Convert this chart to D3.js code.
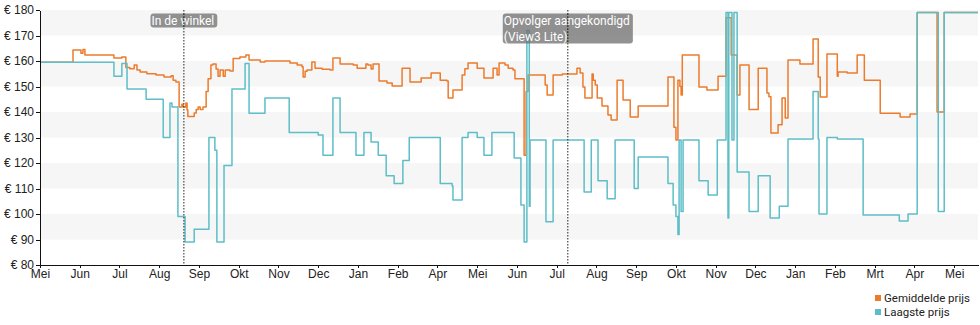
<!DOCTYPE html>
<html>
<head>
<meta charset="utf-8">
<script src="https://cdn.jsdelivr.net/npm/d3@7"></script>
<style>
  html, body { margin: 0; padding: 0; background: #fff; }
  svg { display: block; font-family: Roboto, "Noto Sans", sans-serif; }
  .axis text { font-size: 12px; fill: #222; }
  .axis path, .axis line { stroke: #111; shape-rendering: crispEdges; }
</style>
</head>
<body>
<svg id="chart" width="980" height="325"></svg>
<script>
// Month labels along the time axis (one tick per month index)
const monthLabels = ["Mei","Jun","Jul","Aug","Sep","Okt","Nov","Dec","Jan","Feb","Apr","Mei",
                     "Jun","Jul","Aug","Sep","Okt","Nov","Dec","Jan","Feb","Mrt","Apr","Mei"];

// Price axis ticks (euro)
const priceTicks = [80, 90, 100, 110, 120, 130, 140, 150, 160, 170, 180];

// Shaded price bands
const priceBands = [[170, 180], [150, 160], [130, 140], [110, 120], [90, 100]];

// Average price: [month index, price], each value holds until the next change
const avgPrice = [
  [0.00,159.5],[0.83,164.3],[1.03,163],[1.08,164.5],[1.13,162.4],[1.86,161.2],[2.06,161.6],
  [2.16,157.5],[2.26,157],[2.37,158.4],[2.44,156.5],[2.52,155.7],[2.69,155],[2.92,154.5],
  [3.12,153.7],[3.30,154.2],[3.35,152.5],[3.42,151.8],[3.50,142],[3.57,143],[3.60,142],
  [3.67,143.5],[3.70,140.8],[3.72,138.2],[3.88,139.6],[3.93,141],[3.98,142],[4.03,141],
  [4.10,142],[4.18,148],[4.23,153],[4.30,158.4],[4.35,158.8],[4.43,156.9],[4.48,154],
  [4.53,156.5],[4.61,154],[4.66,156.5],[4.78,156.1],[4.86,161],[5.03,161.6],[5.18,162.4],
  [5.26,160.4],[5.54,159.6],[5.66,160],[6.29,159.2],[6.47,158.4],[6.59,157.7],[6.62,153.7],
  [6.67,156],[6.72,156.5],[6.84,159.6],[6.92,157.2],[7.10,156.8],[7.30,156.5],[7.37,161.2],
  [7.55,158.8],[7.88,158.4],[7.98,157.2],[8.20,158.8],[8.25,158.4],[8.33,156.9],[8.38,158.8],
  [8.53,152.2],[8.73,151.4],[8.86,150.2],[9.11,157.2],[9.31,151.8],[9.59,153.3],[9.84,155.3],
  [10.07,152.5],[10.24,152.2],[10.27,145.5],[10.39,148.6],[10.62,154.5],[10.69,157],
  [10.77,159.2],[11.00,157.2],[11.17,153.3],[11.40,157.2],[11.50,154.5],[11.55,159.2],
  [11.70,158.4],[11.78,157.2],[11.90,156.5],[11.95,153],[12.18,123],[12.23,148],[12.28,154.5],
  [12.71,150.6],[12.76,146.7],[12.91,154.5],[13.14,154.9],[13.51,157.2],[13.59,155.3],
  [13.66,149.8],[13.71,145.5],[13.89,154.9],[13.92,152.5],[13.97,150.6],[14.02,145.5],
  [14.14,142.4],[14.29,138.8],[14.37,136.9],[14.52,152.5],[14.67,144.7],[14.85,138],
  [15.05,142.4],[15.80,153.7],[15.95,134],[16.00,129],[16.05,152.5],[16.10,150],[16.13,146.7],
  [16.16,162.4],[16.58,149.8],[16.78,148.6],[17.06,154],[17.26,177],[17.39,162.4],
  [17.54,146.7],[17.61,158.4],[17.84,141],[18.07,157.2],[18.29,147.5],[18.34,146],
  [18.39,131.8],[18.57,135],[18.67,145.5],[18.75,137.6],[18.82,160.4],[19.12,158.8],
  [19.45,168.6],[19.58,153.7],[19.63,145.9],[19.80,162.7],[20.06,154],[20.08,155.7],
  [20.31,155.3],[20.56,162.4],[20.74,152.5],[21.14,139.5],[21.64,138],[21.89,139.2],
  [22.07,179],[22.57,140],[22.75,179],[23.60,179]
];

// Lowest price: [month index, price]
const lowPrice = [
  [0.00,159.5],[1.86,154],[2.06,159],[2.19,149],[2.67,145],[3.10,130],[3.27,143.5],[3.32,142],
  [3.47,99],[3.65,89],[3.88,94],[4.25,130],[4.40,125],[4.45,89],[4.63,119],[4.83,149],
  [5.16,159],[5.26,139.5],[5.66,145.5],[6.27,132],[7.00,131],[7.12,123],[7.37,145.5],
  [7.55,132],[7.95,123],[8.15,132],[8.33,128.2],[8.51,123],[8.71,115],[8.91,112],[9.13,121],
  [9.29,130],[10.07,112],[10.37,111],[10.39,105.5],[10.62,130],[10.77,132],[11.00,130],
  [11.17,123],[11.37,132],[11.93,122],[12.10,103.5],[12.18,89],[12.25,172],[12.31,103],
  [12.33,129],[12.73,97],[12.91,129],[13.69,108.6],[13.87,129],[14.04,113],[14.27,106],
  [14.47,129],[14.95,110],[15.05,122.4],[15.80,112],[15.93,103.5],[16.00,99],[16.05,92],
  [16.08,129],[16.13,101],[16.18,129],[16.58,113],[16.81,107.5],[17.04,129],[17.26,179],
  [17.31,98.4],[17.33,179],[17.41,129],[17.46,179],[17.54,116.5],[17.84,101],[18.07,115],
  [18.37,98.4],[18.60,103],[18.82,129.4],[19.45,148],[19.58,129.4],[19.60,100],[19.80,130],
  [20.06,129.4],[20.71,99.6],[21.62,97.3],[21.84,100],[22.07,179],[22.60,101],[22.75,179],
  [23.60,179]
];

// Event markers on the time axis
const eventAt = [3.62, 13.28];
const eventText = [["In de winkel"], ["Opvolger aangekondigd", "(View3 Lite)"]];

const seriesNames = ["Gemiddelde prijs", "Laagste prijs"];
const seriesColors = ["#ec7b2c", "#5dbec7"];

const svg = d3.select("#chart");
const x = d3.scaleLinear().domain([0, 23.6]).range([40, 978]);
const y = d3.scaleLinear().domain([80, 180]).range([265, 10]);

// Background bands
svg.append("g").selectAll("rect").data(priceBands).join("rect")
  .attr("x", x(0)).attr("width", x(23.6) - x(0))
  .attr("y", d => y(d[1])).attr("height", d => y(d[0]) - y(d[1]))
  .attr("fill", "#f6f6f6");

// Price lines
const line = d3.line().x(d => x(d[0])).y(d => y(d[1])).curve(d3.curveStepAfter);
[avgPrice, lowPrice].forEach((data, i) => {
  svg.append("path").datum(data)
    .attr("d", line)
    .attr("fill", "none")
    .attr("stroke", seriesColors[i])
    .attr("stroke-width", 1.5)
    .attr("stroke-linejoin", "round");
});

// Event markers: dotted line with a label block centred on it, lines left-aligned
eventAt.forEach((m, i) => {
  const g = svg.append("g");
  g.append("line")
    .attr("x1", x(m)).attr("x2", x(m))
    .attr("y1", y(180)).attr("y2", y(80))
    .attr("stroke", "#222").attr("stroke-width", 1)
    .attr("stroke-dasharray", "1.5,1.5");
  const box = g.append("rect").attr("fill", "rgba(110,110,110,0.75)").attr("rx", 3);
  const t = g.append("text")
    .attr("y", 24.5)
    .attr("text-anchor", "start")
    .attr("fill", "#fff").attr("font-size", 12);
  const spans = eventText[i].map((s, k) =>
    t.append("tspan").attr("x", 0).attr("dy", k === 0 ? 0 : 16).text(s));
  const w = t.node().getBBox().width;
  const left = x(m) - (w + 4) / 2 + 1;
  spans.forEach(sp => sp.attr("x", left));
  const bb = t.node().getBBox();
  box.attr("x", bb.x - 1).attr("y", bb.y).attr("width", bb.width + 4).attr("height", bb.height);
  g.append("line")
    .attr("x1", x(m)).attr("x2", x(m))
    .attr("y1", bb.y).attr("y2", bb.y + bb.height)
    .attr("stroke", "#222").attr("stroke-width", 1)
    .attr("stroke-dasharray", "1.5,1.5");
});

// Axes
svg.append("g").attr("class", "axis")
  .attr("transform", `translate(${x(0)},0)`)
  .call(d3.axisLeft(y).tickValues(priceTicks).tickFormat(d => "€ " + d).tickSize(4).tickSizeOuter(0).tickPadding(2));

svg.append("g").attr("class", "axis")
  .attr("transform", `translate(0,${y(80)})`)
  .call(d3.axisBottom(x).tickValues(d3.range(monthLabels.length)).tickFormat(i => monthLabels[i])
        .tickSize(3).tickSizeOuter(0).tickPadding(1));

// Legend
const legend = svg.append("g").attr("transform", "translate(875,293)");
seriesNames.forEach((n, i) => {
  legend.append("rect").attr("x", 0).attr("y", i * 14 + 2).attr("width", 6).attr("height", 6)
    .attr("fill", seriesColors[i]);
  legend.append("text").attr("x", 9).attr("y", i * 14 + 9)
    .attr("font-size", 11.5).attr("fill", "#222").text(n);
});
</script>
</body>
</html>
